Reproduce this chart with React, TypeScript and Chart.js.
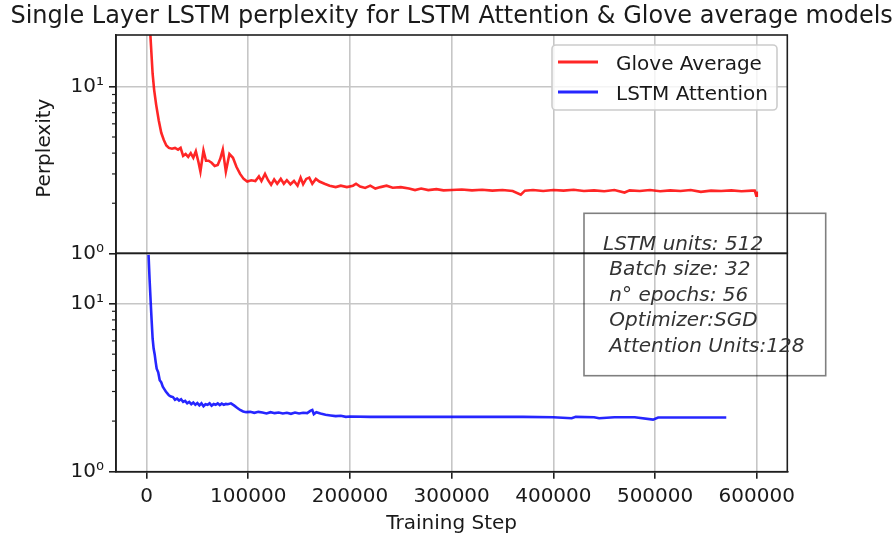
import React, { useEffect, useRef } from 'react';
import { Chart, registerables } from 'chart.js';

Chart.register(...registerables);

const FONT = "'DejaVu Sans', 'Liberation Sans', sans-serif";
const TITLE = 'Single Layer LSTM perplexity for LSTM Attention & Glove average models';
const X_LABEL = 'Training Step';
const Y_LABEL = 'Perplexity';
const SERIES_NAMES = ['Glove Average', 'LSTM Attention'];
const INFO_LINES = ['LSTM units: 512', ' Batch size: 32', ' n\u00b0 epochs: 56', ' Optimizer:SGD', ' Attention Units:128'];

const X_TICKS = [0, 100000, 200000, 300000, 400000, 500000, 600000];
const X_MIN = -30000;
const X_MAX = 630000;
const Y_MAJOR = [1, 10];
const Y_MINOR = [2, 3, 4, 5, 6, 7, 8, 9];
const Y_MAJOR_LABELS = ['10\u2070', '10\u00b9'];
const Y_TOP_MAX = 20.5;
const Y_BOTTOM_MAX = 19.9;

const gloveSteps = [
  3500, 6000, 7500, 9500, 12000, 14500, 17000, 19500, 22000, 25000, 28000, 31000, 33500, 36000, 38500,
  41000, 43500, 46000, 48500, 51000, 53000, 56000, 58500, 61000, 64000, 67000, 70000, 72500, 75000, 78000,
  81500, 85000, 88500, 92000, 95500, 99000, 103000, 107000, 110500, 113000, 116500, 119500, 122500, 125500,
  128500, 132000, 135000, 138000, 141500, 145000, 148500, 151500, 154000, 157000, 160000, 163000, 166500,
  170000, 175000, 180000, 186000, 191000, 197000, 203000, 206000, 210000, 215000, 220000, 225000, 230000,
  236000, 242000, 250000, 258000, 264000, 270000, 277000, 285000, 292000, 300000, 310000, 320000, 330000,
  340000, 350000, 360000, 368000, 372000, 380000, 390000, 400000, 410000, 420000, 430000, 440000, 450000,
  460000, 470000, 475000, 485000, 495000, 505000, 515000, 525000, 535000, 545000, 555000, 565000, 575000,
  585000, 595000, 598000, 599500, 600000,
];
const gloveValues = [
  22, 12, 9.6, 7.8, 6.3, 5.3, 4.8, 4.45, 4.3, 4.25, 4.3, 4.2, 4.3, 3.85, 3.95,
  3.8, 4.0, 3.75, 4.1, 3.55, 3.1, 4.15, 3.6, 3.6, 3.5, 3.35, 3.4, 3.7, 4.2, 3.1,
  3.95, 3.75, 3.3, 3.0, 2.8, 2.7, 2.75, 2.72, 2.9, 2.72, 3.0, 2.75, 2.58, 2.78,
  2.62, 2.8, 2.62, 2.75, 2.6, 2.72, 2.55, 2.85, 2.6, 2.8, 2.85, 2.62, 2.8,
  2.7, 2.62, 2.55, 2.5, 2.55, 2.5, 2.55, 2.62, 2.52, 2.47, 2.55, 2.45, 2.5,
  2.55, 2.48, 2.5, 2.45, 2.4, 2.45, 2.4, 2.43, 2.39, 2.4, 2.42, 2.39, 2.41,
  2.38, 2.4, 2.37, 2.25, 2.38, 2.4, 2.37, 2.4, 2.38, 2.41, 2.37, 2.39, 2.36,
  2.4, 2.32, 2.39, 2.37, 2.4, 2.36, 2.39, 2.37, 2.4, 2.34, 2.38, 2.37, 2.39,
  2.36, 2.38, 2.38, 2.22, 2.35,
];

const lstmSteps = [
  2000, 3000, 4000, 5000, 6000, 7000, 8000, 9000, 10000, 11500, 13000, 14500, 16000, 17500, 19000, 20500,
  22000, 24000, 26000, 28000, 30000, 32000, 34000, 36000, 38000, 40000, 42000, 44000, 46000, 48000, 50000,
  52000, 54000, 56000, 58000, 60000, 62000, 64000, 66000, 68000, 70000, 72000, 74000, 76000, 78000, 80000,
  83000, 86000, 89000, 92000, 95000, 98000, 102000, 106000, 110000, 114000, 118000, 122000, 126000, 130000,
  134000, 138000, 142000, 146000, 150000, 154000, 158000, 161000, 163000, 164500, 167000, 171000, 176000,
  181000, 186000, 191000, 196000, 200000, 220000, 250000, 280000, 310000, 340000, 370000, 400000, 418000,
  422000, 440000, 445000, 460000, 480000, 498000, 503000, 530000, 570000,
];
const lstmValues = [
  19.5, 14, 10.5, 8, 6.2, 5.4, 5.0, 4.5, 4.1, 3.9, 3.5, 3.4, 3.2, 3.1, 3.0, 2.92,
  2.85, 2.8, 2.78, 2.68, 2.72, 2.65, 2.7, 2.6, 2.64, 2.55, 2.6, 2.52, 2.58, 2.5, 2.56,
  2.48, 2.55, 2.45, 2.52, 2.5, 2.55, 2.47, 2.53, 2.5, 2.55, 2.49, 2.54, 2.5, 2.53, 2.52,
  2.55, 2.48, 2.4, 2.33, 2.28, 2.26, 2.27, 2.24, 2.27, 2.25, 2.22, 2.26, 2.23, 2.25,
  2.22, 2.24, 2.21, 2.25, 2.22, 2.24, 2.23, 2.3, 2.33, 2.2, 2.26, 2.22, 2.18,
  2.16, 2.14, 2.15, 2.12, 2.13, 2.12, 2.12, 2.12, 2.12, 2.12, 2.12, 2.11, 2.08,
  2.12, 2.11, 2.08, 2.11, 2.11, 2.04, 2.1, 2.1, 2.1,
];

const RED = 'rgba(255,0,0,0.85)';
const BLUE = 'rgba(0,0,255,0.85)';
const GRID = '#c6c6c6';
const SPINE = '#1e1e1e';
const TEXT = '#1a1a1a';

const decorPlugin = {
  id: 'decor',
  afterDraw(chart: any) {
    const { ctx, chartArea: a } = chart;
    const yt = chart.scales.yTop;
    const yb = chart.scales.yBottom;
    ctx.save();
    // spines
    ctx.strokeStyle = SPINE;
    ctx.lineWidth = 1.6;
    ctx.strokeRect(a.left, yt.top, a.right - a.left, yt.bottom - yt.top);
    ctx.strokeRect(a.left, yb.top, a.right - a.left, yb.bottom - yb.top);
    // minor ticks
    ctx.lineWidth = 1.2;
    for (const s of [yt, yb]) {
      for (const v of Y_MINOR) {
        const y = s.getPixelForValue(v);
        ctx.beginPath();
        ctx.moveTo(a.left - 4, y);
        ctx.lineTo(a.left, y);
        ctx.stroke();
      }
    }
    // title
    ctx.fillStyle = TEXT;
    ctx.font = `24px ${FONT}`;
    ctx.textAlign = 'center';
    ctx.textBaseline = 'alphabetic';
    ctx.fillText(TITLE, (a.left + a.right) / 2, 23);
    // x label
    ctx.font = `20px ${FONT}`;
    ctx.fillText(X_LABEL, (a.left + a.right) / 2, 529);
    // y label
    ctx.save();
    ctx.translate(50, (yt.top + yt.bottom) / 2 + 4);
    ctx.rotate(-Math.PI / 2);
    ctx.fillText(Y_LABEL, 0, 0);
    ctx.restore();
    // legend
    const lx = 552, ly = 45, lw = 225, lh = 65;
    ctx.beginPath();
    ctx.roundRect(lx, ly, lw, lh, 4);
    ctx.fillStyle = 'rgba(255,255,255,0.8)';
    ctx.fill();
    ctx.strokeStyle = '#cccccc';
    ctx.lineWidth = 1.6;
    ctx.stroke();
    const colors = [RED, BLUE];
    SERIES_NAMES.forEach((name, i) => {
      const base = 70 + i * 30;
      ctx.strokeStyle = colors[i];
      ctx.lineWidth = 3;
      ctx.beginPath();
      ctx.moveTo(558, base - 8);
      ctx.lineTo(598, base - 8);
      ctx.stroke();
      ctx.fillStyle = TEXT;
      ctx.textAlign = 'left';
      ctx.font = `20px ${FONT}`;
      ctx.fillText(name, 616, base);
    });
    // info box
    ctx.strokeStyle = 'rgba(0,0,0,0.5)';
    ctx.lineWidth = 1.6;
    ctx.strokeRect(584, 213.3, 241.7, 162.4);
    ctx.fillStyle = '#333333';
    ctx.font = `italic 20px ${FONT}`;
    ctx.textAlign = 'left';
    INFO_LINES.forEach((line, i) => {
      ctx.fillText(line, 603, 250 + i * 25.4);
    });
    ctx.restore();
  },
};

function yScale(max: number) {
  return {
    type: 'logarithmic',
    position: 'left',
    stack: 'y',
    stackWeight: 1,
    min: 1,
    max,
    afterBuildTicks: (s: any) => {
      s.ticks = [...Y_MAJOR, ...Y_MINOR].sort((p, q) => p - q).map((v) => ({ value: v }));
    },
    afterFit: (s: any) => {
      s.width = 116;
    },
    ticks: {
      autoSkip: false,
      color: TEXT,
      padding: 5,
      font: { family: FONT, size: 20 },
      callback: (v: any) => {
        const i = Y_MAJOR.indexOf(Number(v));
        return i >= 0 ? Y_MAJOR_LABELS[i] : '';
      },
    },
    grid: {
      color: (c: any) => (c.tick && c.tick.value === 10 ? GRID : 'rgba(0,0,0,0)'),
      lineWidth: 1.6,
      tickLength: 7,
      tickWidth: 1.6,
      tickColor: (c: any) => (c.tick && Y_MAJOR.includes(c.tick.value) ? SPINE : 'rgba(0,0,0,0)'),
    },
    border: { display: true, color: SPINE, width: 1.6 },
  };
}

export default function App() {
  const ref = useRef<HTMLCanvasElement>(null);
  useEffect(() => {
    document.body.style.margin = '0';
    const canvas = ref.current!;
    const chart = new Chart(canvas, {
      type: 'line',
      data: {
        datasets: [
          {
            label: SERIES_NAMES[0],
            data: gloveSteps.map((s, i) => ({ x: s, y: gloveValues[i] })),
            borderColor: RED,
            borderWidth: 2.6,
            pointRadius: 0,
            tension: 0,
            yAxisID: 'yTop',
          },
          {
            label: SERIES_NAMES[1],
            data: lstmSteps.map((s, i) => ({ x: s, y: lstmValues[i] })),
            borderColor: BLUE,
            borderWidth: 2.6,
            pointRadius: 0,
            tension: 0,
            yAxisID: 'yBottom',
          },
        ],
      },
      options: {
        animation: false,
        responsive: false,
        devicePixelRatio: 1,
        layout: { padding: { top: 35, right: 108.7, left: 0, bottom: 0 } },
        plugins: { legend: { display: false }, title: { display: false }, tooltip: { enabled: false } },
        scales: {
          x: {
            type: 'linear',
            min: X_MIN,
            max: X_MAX,
            afterBuildTicks: (s: any) => {
              s.ticks = X_TICKS.map((v) => ({ value: v }));
            },
            afterFit: (s: any) => {
              s.height = 63.3;
            },
            ticks: {
              autoSkip: false,
              maxRotation: 0,
              color: TEXT,
              padding: 6,
              font: { family: FONT, size: 20 },
              callback: (v: any) => String(v),
            },
            grid: { color: GRID, lineWidth: 1.6, tickLength: 7, tickWidth: 1.6, tickColor: SPINE },
            border: { display: true, color: SPINE, width: 1.6 },
          },
          yBottom: yScale(Y_BOTTOM_MAX) as any,
          yTop: yScale(Y_TOP_MAX) as any,
        },
      } as any,
      plugins: [decorPlugin],
    });
    return () => chart.destroy();
  }, []);
  return (
    <div style={{ width: 896, height: 535 }}>
      <canvas ref={ref} width={896} height={535} style={{ display: 'block' }} />
    </div>
  );
}
